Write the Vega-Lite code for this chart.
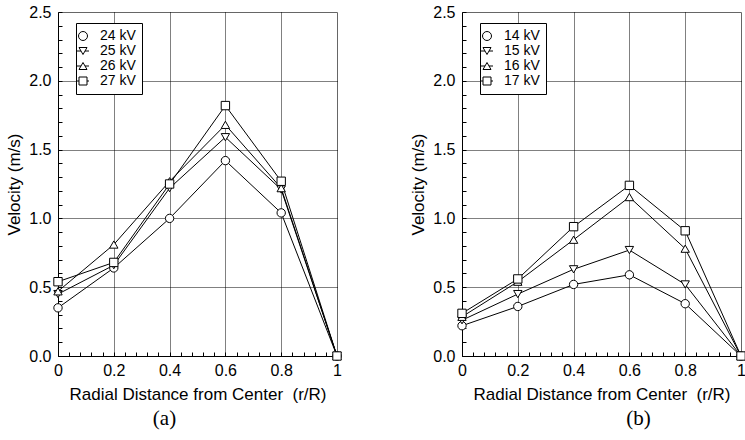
{
  "$schema": "https://vega.github.io/schema/vega-lite/v6.json",
  "background": "white",
  "padding": {"left": 5, "top": 3, "right": 0, "bottom": 0},
  "spacing": 65,
  "datasets": {
    "a": [
      {"r": 0, "v": 0.35, "series": "24 kV"}, {"r": 0.2, "v": 0.64, "series": "24 kV"}, {"r": 0.4, "v": 1.0, "series": "24 kV"}, {"r": 0.6, "v": 1.42, "series": "24 kV"}, {"r": 0.8, "v": 1.04, "series": "24 kV"}, {"r": 1, "v": 0, "series": "24 kV"},
      {"r": 0, "v": 0.45, "series": "25 kV"}, {"r": 0.2, "v": 0.66, "series": "25 kV"}, {"r": 0.4, "v": 1.22, "series": "25 kV"}, {"r": 0.6, "v": 1.59, "series": "25 kV"}, {"r": 0.8, "v": 1.21, "series": "25 kV"}, {"r": 1, "v": 0, "series": "25 kV"},
      {"r": 0, "v": 0.47, "series": "26 kV"}, {"r": 0.2, "v": 0.81, "series": "26 kV"}, {"r": 0.4, "v": 1.27, "series": "26 kV"}, {"r": 0.6, "v": 1.68, "series": "26 kV"}, {"r": 0.8, "v": 1.22, "series": "26 kV"}, {"r": 1, "v": 0, "series": "26 kV"},
      {"r": 0, "v": 0.54, "series": "27 kV"}, {"r": 0.2, "v": 0.68, "series": "27 kV"}, {"r": 0.4, "v": 1.25, "series": "27 kV"}, {"r": 0.6, "v": 1.82, "series": "27 kV"}, {"r": 0.8, "v": 1.27, "series": "27 kV"}, {"r": 1, "v": 0, "series": "27 kV"}
    ],
    "b": [
      {"r": 0, "v": 0.22, "series": "14 kV"}, {"r": 0.2, "v": 0.36, "series": "14 kV"}, {"r": 0.4, "v": 0.52, "series": "14 kV"}, {"r": 0.6, "v": 0.59, "series": "14 kV"}, {"r": 0.8, "v": 0.38, "series": "14 kV"}, {"r": 1, "v": 0, "series": "14 kV"},
      {"r": 0, "v": 0.26, "series": "15 kV"}, {"r": 0.2, "v": 0.45, "series": "15 kV"}, {"r": 0.4, "v": 0.63, "series": "15 kV"}, {"r": 0.6, "v": 0.77, "series": "15 kV"}, {"r": 0.8, "v": 0.52, "series": "15 kV"}, {"r": 1, "v": 0, "series": "15 kV"},
      {"r": 0, "v": 0.285, "series": "16 kV"}, {"r": 0.2, "v": 0.54, "series": "16 kV"}, {"r": 0.4, "v": 0.845, "series": "16 kV"}, {"r": 0.6, "v": 1.155, "series": "16 kV"}, {"r": 0.8, "v": 0.78, "series": "16 kV"}, {"r": 1, "v": 0, "series": "16 kV"},
      {"r": 0, "v": 0.31, "series": "17 kV"}, {"r": 0.2, "v": 0.56, "series": "17 kV"}, {"r": 0.4, "v": 0.94, "series": "17 kV"}, {"r": 0.6, "v": 1.24, "series": "17 kV"}, {"r": 0.8, "v": 0.91, "series": "17 kV"}, {"r": 1, "v": 0, "series": "17 kV"}
    ]
  },
  "hconcat": [
    {
      "width": 279, "height": 344,
      "data": {"name": "a"},
      "title": {"text": "(a)", "orient": "bottom", "font": "Liberation Serif", "fontSize": 21, "fontWeight": "normal", "color": "black", "offset": 6, "dx": -33},
      "layer": [
        {
          "mark": {"type": "line", "color": "black", "strokeWidth": 1},
          "encoding": {
            "x": {"field": "r", "type": "quantitative", "scale": {"domain": [0, 1], "nice": false},
              "axis": {
                "title": "Radial Distance from Center \u00a0(r/R)",
                "values": [0, 0.04, 0.08, 0.12, 0.16, 0.2, 0.24, 0.28, 0.32, 0.36, 0.4, 0.44, 0.48, 0.52, 0.56, 0.6, 0.64, 0.68, 0.72, 0.76, 0.8, 0.84, 0.88, 0.92, 0.96, 1],
                "tickCount": 40, "labelOverlap": false, "labelFlush": false,
                "labelExpr": "abs(datum.value*5 - round(datum.value*5)) < 0.001 ? (datum.value == 0 ? '0' : datum.value == 1 ? '1' : format(datum.value, '.1f')) : ''",
                "gridOpacity": {"condition": {"test": "datum.value > 0.01 && datum.value < 0.99 && abs(datum.value*5 - round(datum.value*5)) < 0.001", "value": 1}, "value": 0},
                "labelPadding": 10, "titlePadding": 8
              }},
            "y": {"field": "v", "type": "quantitative", "scale": {"domain": [0, 2.5], "nice": false},
              "axis": {
                "title": "Velocity (m/s)",
                "values": [0, 0.1, 0.2, 0.3, 0.4, 0.5, 0.6, 0.7, 0.8, 0.9, 1.0, 1.1, 1.2, 1.3, 1.4, 1.5, 1.6, 1.7, 1.8, 1.9, 2.0, 2.1, 2.2, 2.3, 2.4, 2.5],
                "tickCount": 40, "labelOverlap": false, "labelFlush": false,
                "labelExpr": "abs(datum.value*2 - round(datum.value*2)) < 0.001 ? format(datum.value, '.1f') : ''",
                "gridOpacity": {"condition": {"test": "datum.value > 0.01 && datum.value < 2.49 && abs(datum.value*2 - round(datum.value*2)) < 0.001", "value": 1}, "value": 0},
                "labelPadding": 11, "titlePadding": 5
              }},
            "detail": {"field": "series", "type": "nominal"}
          }
        },
        {
          "mark": {"type": "point", "filled": true, "fill": "white", "stroke": "black", "strokeWidth": 1, "size": 70, "opacity": 1},
          "encoding": {
            "x": {"field": "r", "type": "quantitative"},
            "y": {"field": "v", "type": "quantitative"},
            "shape": {"field": "series", "type": "nominal", "legend": null,
              "scale": {"domain": ["24 kV", "25 kV", "26 kV", "27 kV"], "range": ["circle", "triangle-down", "triangle-up", "square"]}}
          }
        },
        {
          "transform": [{"filter": "false"}],
          "mark": {"type": "point", "filled": false, "color": "black", "strokeWidth": 1, "opacity": 1},
          "encoding": {
            "x": {"field": "r", "type": "quantitative"},
            "y": {"field": "v", "type": "quantitative"},
            "shape": {"field": "series", "type": "nominal",
              "scale": {"domain": ["24 kV", "25 kV", "26 kV", "27 kV"], "range": [
                "M-0.75,0A2.25,2.25,0,1,1,-5.25,0A2.25,2.25,0,1,1,-0.75,0Z",
                "M-6,0L-4,0M-2,0L0,0M-5,-1.75L-1,-1.75L-3,1.75Z",
                "M-6,0L-4,0M-2,0L0,0M-5,1.75L-1,1.75L-3,-1.75Z",
                "M-6,0L-5,0M-1,0L0,0M-5,-2L-1,-2L-1,2L-5,2Z"]},
              "legend": {
                "orient": "none", "legendX": 18, "legendY": 11, "title": null,
                "strokeColor": "black", "fillColor": "white", "padding": 6,
                "symbolSize": 16, "symbolStrokeColor": "black", "symbolStrokeWidth": 1, "symbolOpacity": 1,
                "labelFont": "Liberation Sans", "labelFontSize": 14, "labelColor": "black",
                "labelOffset": 4, "rowPadding": 1
              }
            }
          }
        }
      ],
      "resolve": {"scale": {"shape": "independent"}}
    },
    {
      "width": 279, "height": 344,
      "data": {"name": "b"},
      "title": {"text": "(b)", "orient": "bottom", "font": "Liberation Serif", "fontSize": 21, "fontWeight": "normal", "color": "black", "offset": 6, "dx": 37},
      "layer": [
        {
          "mark": {"type": "line", "color": "black", "strokeWidth": 1},
          "encoding": {
            "x": {"field": "r", "type": "quantitative", "scale": {"domain": [0, 1], "nice": false},
              "axis": {
                "title": "Radial Distance from Center \u00a0(r/R)",
                "values": [0, 0.04, 0.08, 0.12, 0.16, 0.2, 0.24, 0.28, 0.32, 0.36, 0.4, 0.44, 0.48, 0.52, 0.56, 0.6, 0.64, 0.68, 0.72, 0.76, 0.8, 0.84, 0.88, 0.92, 0.96, 1],
                "tickCount": 40, "labelOverlap": false, "labelFlush": false,
                "labelExpr": "abs(datum.value*5 - round(datum.value*5)) < 0.001 ? (datum.value == 0 ? '0' : datum.value == 1 ? '1' : format(datum.value, '.1f')) : ''",
                "gridOpacity": {"condition": {"test": "datum.value > 0.01 && datum.value < 0.99 && abs(datum.value*5 - round(datum.value*5)) < 0.001", "value": 1}, "value": 0},
                "labelPadding": 10, "titlePadding": 8
              }},
            "y": {"field": "v", "type": "quantitative", "scale": {"domain": [0, 2.5], "nice": false},
              "axis": {
                "title": "Velocity (m/s)",
                "values": [0, 0.1, 0.2, 0.3, 0.4, 0.5, 0.6, 0.7, 0.8, 0.9, 1.0, 1.1, 1.2, 1.3, 1.4, 1.5, 1.6, 1.7, 1.8, 1.9, 2.0, 2.1, 2.2, 2.3, 2.4, 2.5],
                "tickCount": 40, "labelOverlap": false, "labelFlush": false,
                "labelExpr": "abs(datum.value*2 - round(datum.value*2)) < 0.001 ? format(datum.value, '.1f') : ''",
                "gridOpacity": {"condition": {"test": "datum.value > 0.01 && datum.value < 2.49 && abs(datum.value*2 - round(datum.value*2)) < 0.001", "value": 1}, "value": 0},
                "labelPadding": 11, "titlePadding": 5
              }},
            "detail": {"field": "series", "type": "nominal"}
          }
        },
        {
          "mark": {"type": "point", "filled": true, "fill": "white", "stroke": "black", "strokeWidth": 1, "size": 70, "opacity": 1},
          "encoding": {
            "x": {"field": "r", "type": "quantitative"},
            "y": {"field": "v", "type": "quantitative"},
            "shape": {"field": "series", "type": "nominal", "legend": null,
              "scale": {"domain": ["14 kV", "15 kV", "16 kV", "17 kV"], "range": ["circle", "triangle-down", "triangle-up", "square"]}}
          }
        },
        {
          "transform": [{"filter": "false"}],
          "mark": {"type": "point", "filled": false, "color": "black", "strokeWidth": 1, "opacity": 1},
          "encoding": {
            "x": {"field": "r", "type": "quantitative"},
            "y": {"field": "v", "type": "quantitative"},
            "shape": {"field": "series", "type": "nominal",
              "scale": {"domain": ["14 kV", "15 kV", "16 kV", "17 kV"], "range": [
                "M-0.75,0A2.25,2.25,0,1,1,-5.25,0A2.25,2.25,0,1,1,-0.75,0Z",
                "M-6,0L-4,0M-2,0L0,0M-5,-1.75L-1,-1.75L-3,1.75Z",
                "M-6,0L-4,0M-2,0L0,0M-5,1.75L-1,1.75L-3,-1.75Z",
                "M-6,0L-5,0M-1,0L0,0M-5,-2L-1,-2L-1,2L-5,2Z"]},
              "legend": {
                "orient": "none", "legendX": 18, "legendY": 11, "title": null,
                "strokeColor": "black", "fillColor": "white", "padding": 6,
                "symbolSize": 16, "symbolStrokeColor": "black", "symbolStrokeWidth": 1, "symbolOpacity": 1,
                "labelFont": "Liberation Sans", "labelFontSize": 14, "labelColor": "black",
                "labelOffset": 4, "rowPadding": 1
              }
            }
          }
        }
      ],
      "resolve": {"scale": {"shape": "independent"}}
    }
  ],
  "resolve": {"scale": {"shape": "independent"}, "legend": {"shape": "independent"}},
  "config": {
    "font": "Liberation Sans",
    "view": {"stroke": "#666", "strokeWidth": 1},
    "axis": {
      "domainColor": "black", "domainWidth": 1,
      "tickColor": "black", "tickSize": -4, "tickWidth": 1,
      "labelFont": "Liberation Sans", "labelFontSize": 16, "labelColor": "black",
      "titleFont": "Liberation Sans", "titleFontSize": 17, "titleFontWeight": "normal", "titleColor": "black",
      "grid": true, "gridColor": "black", "gridDash": [1, 1], "gridWidth": 1
    }
  }
}
